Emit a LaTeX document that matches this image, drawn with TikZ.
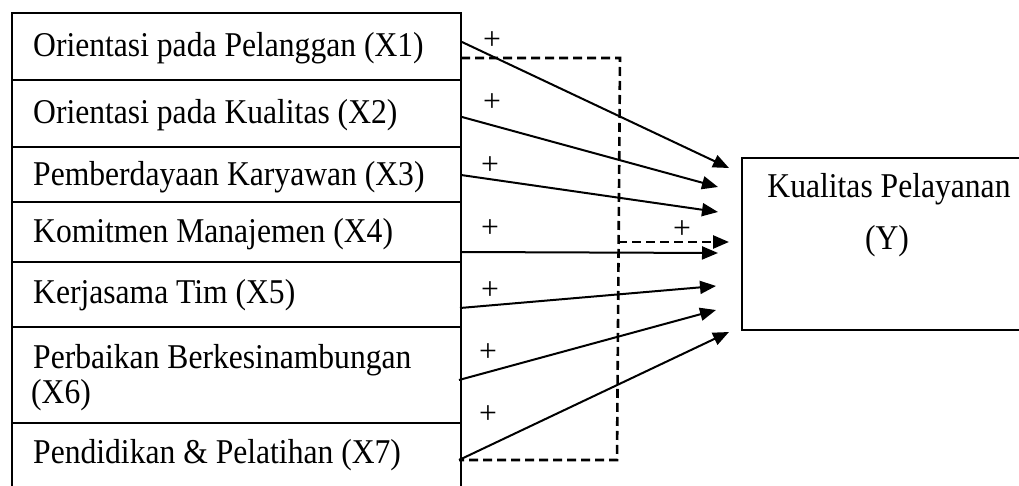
\documentclass[tikz,border=0pt]{standalone}
\usepackage{fontspec}
\setmainfont{Liberation Serif}
\usepackage{graphicx}
\usetikzlibrary{arrows.meta}
\newcommand{\vs}[1]{\scalebox{1}[1.1]{#1}}
\begin{document}
\begin{tikzpicture}[x=1pt,y=-1pt,
  lbl/.style={anchor=base west, inner sep=0pt, font=\fontsize{31.6pt}{38pt}\selectfont},
  plus/.style={inner sep=0pt, font=\fontsize{31.6pt}{38pt}\selectfont},
  frame/.style={line width=2.2pt},
  conn/.style={line width=2pt, -{Triangle[length=16pt,width=13pt]}},
  dashbox/.style={line width=2.6pt, dash pattern=on 9pt off 5pt},
]
\useasboundingbox (0,0) rectangle (1019,486);
% left stack
\draw[frame] (12,488) -- (12,13) -- (461,13) -- (461,488);
\foreach \yy in {80,147,202,262,327,423} \draw[frame] (12,\yy) -- (461,\yy);
\node[lbl] (t1) at (33,57) {\vs{Orientasi pada Pelanggan (X1)}};
\node[lbl] (t2) at (33,124) {\vs{Orientasi pada Kualitas (X2)}};
\node[lbl] (t3) at (33,186) {\vs{Pemberdayaan Karyawan (X3)}};
\node[lbl] (t4) at (33,243) {\vs{Komitmen Manajemen (X4)}};
\node[lbl] (t5) at (33,303) {\vs{Kerjasama Tim (X5)}};
\node[lbl] (t6a) at (33,368) {\vs{Perbaikan Berkesinambungan}};
\node[lbl] (t6b) at (31,403) {\vs{(X6)}};
\node[lbl] (t7) at (33,463) {\vs{Pendidikan \& Pelatihan (X7)}};
% Y box
\node[inner sep=0pt, minimum width=280pt, minimum height=172pt] (Y) at (882,244) {};
\draw[frame] (Y.north east) -- (Y.north west) -- (Y.south west) -- (Y.south east);
\node[lbl, anchor=base] (y1) at (889,198) {\vs{Kualitas Pelayanan}};
\node[lbl, anchor=base] (y2) at (887,250) {\vs{(Y)}};
% connector ends
\coordinate (s1) at (462,42);  \coordinate (e1) at (729,168);
\coordinate (s2) at (462,117); \coordinate (e2) at (718,187);
\coordinate (s3) at (461,175); \coordinate (e3) at (718,212);
\coordinate (s4) at (461,252); \coordinate (e4) at (718,253);
\coordinate (s5) at (460,308); \coordinate (e5) at (716,286);
\coordinate (s6) at (459,380); \coordinate (e6) at (716,310);
\coordinate (s7) at (459,460); \coordinate (e7) at (729,332);
% dashed path
\coordinate (d1) at (461,58);
\coordinate (d2) at (620,58);
\coordinate (db) at (618,242);
\coordinate (d3) at (617,460);
\coordinate (d4) at (459,460);
\coordinate (ed) at (729,242);
\draw[dashbox] (d1) -- (d2) -- (d3) -- (d4);
\draw[dashbox, -{Triangle[length=16pt,width=13pt]}] (db) -- (ed);
\foreach \i in {1,...,7} \draw[conn] (s\i) -- (e\i);
% plus signs
\node[plus] (p1) at (492,41) {+};
\node[plus] (p2) at (492,103) {+};
\node[plus] (p3) at (490,166) {+};
\node[plus] (p4) at (490,229) {+};
\node[plus] (p5) at (490,291) {+};
\node[plus] (p6) at (488,353) {+};
\node[plus] (p7) at (488,415) {+};
\node[plus] (p8) at (682,230) {+};
\end{tikzpicture}
\end{document}
